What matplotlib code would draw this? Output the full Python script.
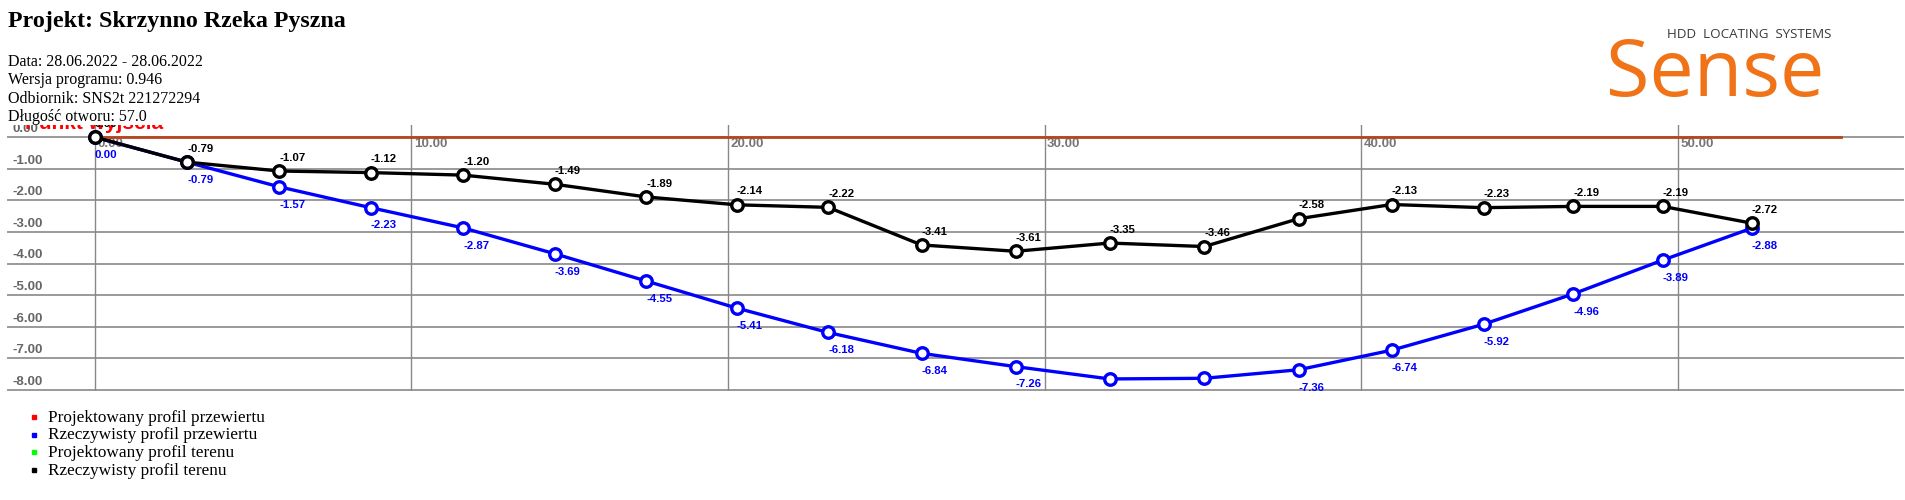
import matplotlib
matplotlib.use('Agg')
import matplotlib.pyplot as plt

W, H = 1906, 500

# dane profilu
odleglosc = [0.00, 2.91, 5.82, 8.71, 11.63, 14.53, 17.41, 20.28, 23.16, 26.11,
             29.08, 32.05, 35.04, 38.02, 40.96, 43.86, 46.69, 49.52, 52.33]
teren = [0.00, -0.79, -1.07, -1.12, -1.20, -1.49, -1.89, -2.14, -2.22, -3.41,
         -3.61, -3.35, -3.46, -2.58, -2.13, -2.23, -2.19, -2.19, -2.72]
przewiert = [0.00, -0.79, -1.57, -2.23, -2.87, -3.69, -4.55, -5.41, -6.18, -6.84,
             -7.26, -7.65, -7.63, -7.36, -6.74, -5.92, -4.96, -3.89, -2.88]
projekt_x = [0.0, 55.14]
projekt_y = [0.0, 0.0]
x_ticks = [0, 10, 20, 30, 40, 50]
y_ticks = [0, -1, -2, -3, -4, -5, -6, -7, -8]

naglowek = 'Projekt: Skrzynno Rzeka Pyszna'
info = ['Data: 28.06.2022 - 28.06.2022',
        'Wersja programu: 0.946',
        'Odbiornik: SNS2t 221272294',
        'Długość otworu: 57.0']
legenda = ['Projektowany profil przewiertu', 'Rzeczywisty profil przewiertu',
           'Projektowany profil terenu', 'Rzeczywisty profil terenu']
legenda_kol = ['#ff0000', '#0000ff', '#00ff00', '#000000']

serif = 'Liberation Serif'
sans = 'Liberation Sans'

fig = plt.figure(figsize=(W / 100, H / 100), dpi=100)

def fx(px):
    return px / W

def fy(py):
    return 1 - py / H

# obszar wykresu w pikselach
left, right, top, bottom = 8.3, 1902.7, 125, 390.5
ax = fig.add_axes([fx(left), fy(bottom), fx(right - left), (bottom - top) / H])
ax.set_xlim(-2.735, 57.10)
ax.set_ylim(-8.016, 0.386)
ax.axis('off')

for y in y_ticks:
    ax.axhline(y, color='#9a9a9a', lw=1.4, zorder=1, clip_on=False)
    ax.text(0.002, y + 0.07, '%.2f' % y, transform=ax.get_yaxis_transform(),
            fontsize=9.6, color='#666666', family=sans, fontweight='bold',
            va='bottom', ha='left', clip_on=True, zorder=2)
for x in x_ticks:
    ax.axvline(x, color='#888888', lw=1.0, zorder=1)
    ax.text(x + 0.07, -0.02, '%.2f' % x, fontsize=9.6, color='#777777', family=sans,
            fontweight='bold', va='top', ha='left', zorder=2)

ax.plot(projekt_x, projekt_y, color='#b8441c', lw=2.0, zorder=3)
ax.text(-2.2, 0.25, 'Punkt wyjścia', color='#ff0000', fontsize=15, family=sans,
        fontweight='bold', va='baseline', ha='left', clip_on=True, zorder=3)

ax.plot(odleglosc, przewiert, color='#0000ff', lw=2.4, marker='o', ms=8.3,
        mfc='white', mec='#0000ff', mew=2.4, zorder=4)
ax.plot(odleglosc, teren, color='#000000', lw=2.4, marker='o', ms=8.3,
        mfc='white', mec='#000000', mew=2.4, zorder=5)

for x, y in zip(odleglosc, teren):
    ax.annotate('%.2f' % y, (x, y), xytext=(0, 7.5), textcoords='offset points',
                fontsize=8.2, fontweight='bold', family=sans, color='black',
                ha='left', va='baseline', annotation_clip=False, clip_on=True, zorder=6)
for x, y in zip(odleglosc, przewiert):
    ax.annotate('%.2f' % y, (x, y), xytext=(0, -15), textcoords='offset points',
                fontsize=8.2, fontweight='bold', family=sans, color='#0000ff',
                ha='left', va='baseline', annotation_clip=False, clip_on=True, zorder=6)

# naglowek
fig.text(fx(8), fy(26.7), naglowek, fontsize=17.3, fontweight='bold', family=serif,
         va='baseline', ha='left')
for i, s in enumerate(info):
    fig.text(fx(8), fy(66 + i * 18.3), s, fontsize=11.5, family=serif,
             va='baseline', ha='left')

# logo
fig.text(fx(1831), fy(38), 'HDD  LOCATING  SYSTEMS', fontsize=9.6, family='Open Sans',
         color='#3a3a3a', va='baseline', ha='right')
fig.text(fx(1606), fy(96), 'Sense', fontsize=57, family='Open Sans', color='#f07318',
         va='baseline', ha='left')

# legenda
for i, (s, c) in enumerate(zip(legenda, legenda_kol)):
    yy = 417 + i * 17.7
    fig.patches.append(plt.Rectangle((fx(32), fy(yy + 2)), 4 / W, 4 / H,
                                     color=c, transform=fig.transFigure, figure=fig))
    fig.text(fx(48), fy(yy + 4.5), s, fontsize=12.4, family=serif,
             va='baseline', ha='left')

fig.savefig('out.png', dpi=100)
